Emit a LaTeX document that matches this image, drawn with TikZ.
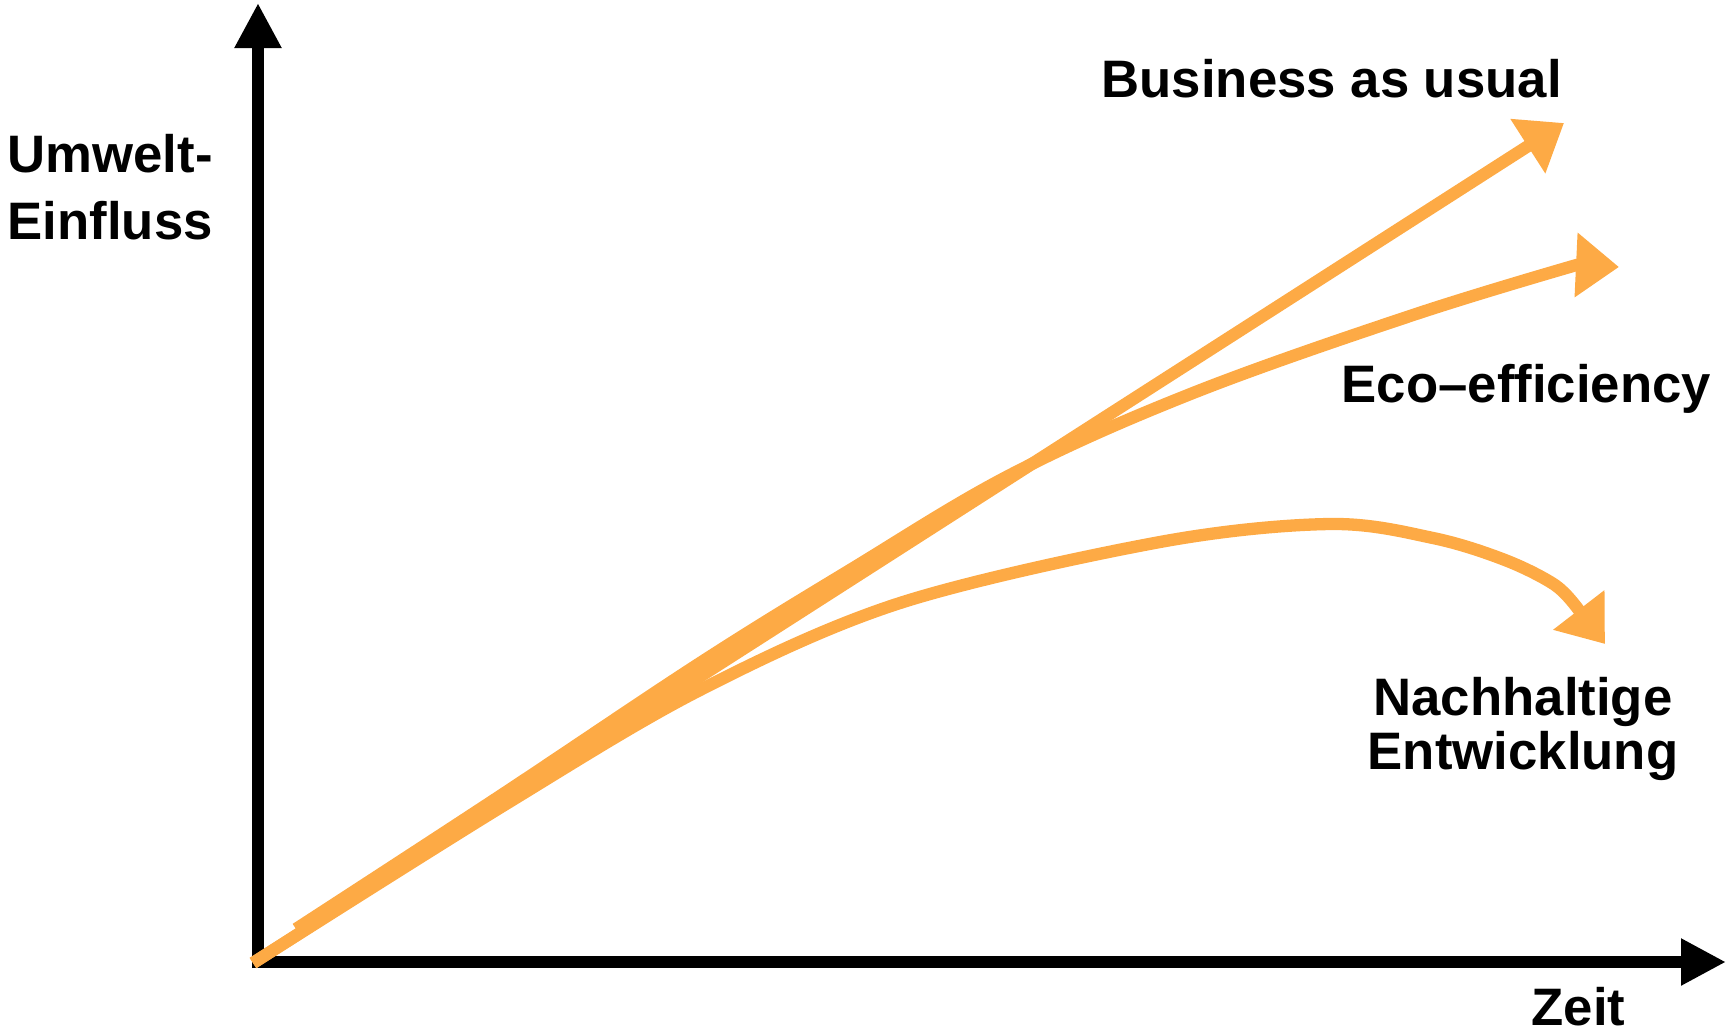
\documentclass[tikz,border=0pt]{standalone}
\usepackage{fontspec}
\setmainfont{Liberation Sans}
\usepackage{tikz}
\usetikzlibrary{calc,arrows.meta}
\definecolor{trendc}{HTML}{FDAA45}
\definecolor{ink}{HTML}{000000}
\tikzset{
  axisline/.style={draw=ink, line width=3.4pt, -{Triangle[length=0.45cm,width=0.44cm]}},
  trend/.style={draw=trendc, line width=3.5pt, -{Triangle[length=0.43cm,width=0.62cm]}},
  lab/.style={text=ink, inner sep=0pt, font=\bfseries\fontsize{15}{18.8}\selectfont}
}

\begin{document}
\begin{tikzpicture}
  \useasboundingbox (0,0) rectangle (17.26,10.32);

  \coordinate (O) at (2.58,0.70);
  \coordinate (Ytop) at (2.58,10.29);
  \coordinate (Xend) at (17.26,0.70);
  \coordinate (S) at (2.53,0.69);
  \coordinate (Sb) at (2.96,1.03);
  \coordinate (Bau) at (15.64,9.09);
  \coordinate (Eco) at (16.19,7.65);
  \coordinate (Nach) at (16.05,3.88);

  % axes
  \draw[axisline] ($(O)+(0,-0.06)$) -- (Ytop);
  \draw[axisline] ($(O)+(-0.06,0)$) -- (Xend);

  % three paths
  \draw[trend] (S) -- (Bau);
  \draw[trend] plot[smooth, tension=0.6] coordinates {(Sb) (5.00,2.36) (7.00,3.69) (8.50,4.62) (10.12,5.58) (11.93,6.39) (14.13,7.17) (15.765,7.67)} -- (Eco);
  \draw[trend] plot[smooth, tension=0.55] coordinates {(S) (5.06,2.28) (7.00,3.42) (9.00,4.29) (11.60,4.90) (13.30,5.08) (14.33,4.94) (15.05,4.72) (15.55,4.47) (15.78,4.23)} -- (Nach);

  \node[lab, anchor=base west, align=left] (yl) at (0.07,7.93) {Umwelt-\\Einfluss};
  \node[lab, anchor=base west] (xl) at (15.31,0.07) {Zeit};
  \node[lab, anchor=base west] (baul) at (11.01,9.35) {Business as usual};
  \node[lab, anchor=base west] (ecol) at (13.41,6.30) {Eco–efficiency};
  \node[lab, anchor=base, align=center, font=\bfseries\fontsize{15}{15.1}\selectfont] (nachl) at (15.23,2.63) {Nachhaltige\\Entwicklung};
\end{tikzpicture}
\end{document}
